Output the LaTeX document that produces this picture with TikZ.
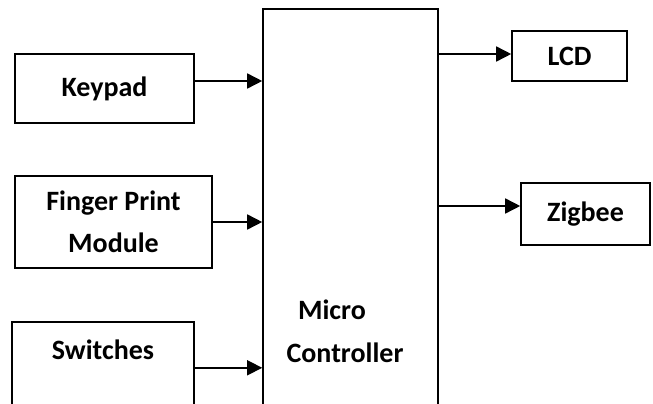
\documentclass[tikz,border=0pt]{standalone}
\usepackage{fontspec}
\setmainfont{Carlito}
\usetikzlibrary{arrows.meta}

\begin{document}
\begin{tikzpicture}[x=1pt,y=-1pt,
  blk/.style={draw,line width=1.6pt,inner sep=0pt,align=center,font=\bfseries\fontsize{28}{42}\selectfont},
  txt/.style={inner sep=0pt,align=center,font=\bfseries\fontsize{28}{43}\selectfont},
  conn/.style={line width=1.6pt,-{Triangle[length=15pt,width=15pt]}}]
\clip (0,0) rectangle (653,404);
\node[blk,minimum width=179,minimum height=69] (kp) at (104.5,88.5) {Keypad};
\node[blk,minimum width=197,minimum height=92] (fp) at (113.5,222) {Finger Print\\Module};
\node[blk,minimum width=182,anchor=north,text height=38pt,text depth=80pt] (sw) at (103,321) {Switches};
\node[blk,minimum width=175,minimum height=430,anchor=north] (mc) at (350.5,8) {};
\node[txt] (mctxt) at (345,331) {Micro\hspace*{26pt}\\Controller};
\node[blk,minimum width=115,minimum height=50] (lcd) at (569.5,56) {LCD};
\node[blk,minimum width=129,minimum height=62] (zb) at (585.5,214) {Zigbee};

\coordinate (k1) at ([yshift=7.5pt]kp.east);
\coordinate (s1) at ([yshift=13pt]sw.east);
\coordinate (l1) at ([yshift=2pt]lcd.west);
\coordinate (z1) at ([yshift=8pt]zb.west);
\draw[conn] (k1) -- (k1 -| mc.west);
\draw[conn] (fp.east) -- (fp.east -| mc.west);
\draw[conn] (s1) -- (s1 -| mc.west);
\draw[conn] (l1 -| mc.east) -- (l1);
\draw[conn] (z1 -| mc.east) -- (z1);
\end{tikzpicture}
\end{document}
